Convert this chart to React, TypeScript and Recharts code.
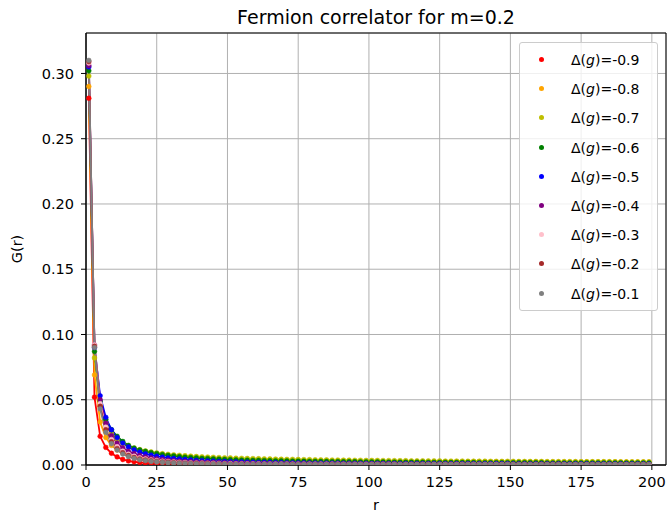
import { CartesianGrid, ComposedChart, Legend, Line, ReferenceArea, XAxis, YAxis } from "recharts";

// distance r (odd sites only)
const rs = [
  1, 3, 5, 7, 9, 11, 13, 15, 17, 19,
  21, 23, 25, 27, 29, 31, 33, 35, 37, 39,
  41, 43, 45, 47, 49, 51, 53, 55, 57, 59,
  61, 63, 65, 67, 69, 71, 73, 75, 77, 79,
  81, 83, 85, 87, 89, 91, 93, 95, 97, 99,
  101, 103, 105, 107, 109, 111, 113, 115, 117, 119,
  121, 123, 125, 127, 129, 131, 133, 135, 137, 139,
  141, 143, 145, 147, 149, 151, 153, 155, 157, 159,
  161, 163, 165, 167, 169, 171, 173, 175, 177, 179,
  181, 183, 185, 187, 189, 191, 193, 195, 197, 199,
];

const g09 = [
  0.281, 0.052, 0.022, 0.0135, 0.009, 0.0062, 0.0042, 0.0031, 0.0024, 0.0019,
  0.0016, 0.0014, 0.0012, 0.0011, 0.001, 0.0009, 0.0009, 0.0008, 0.0008, 0.0007,
  0.0007, 0.0007, 0.0006, 0.0006, 0.0006, 0.0006, 0.0006, 0.0005, 0.0005, 0.0005,
  0.0005, 0.0005, 0.0005, 0.0005, 0.0005, 0.0004, 0.0004, 0.0004, 0.0004, 0.0004,
  0.0004, 0.0004, 0.0004, 0.0004, 0.0004, 0.0004, 0.0004, 0.0004, 0.0004, 0.0004,
  0.0004, 0.0004, 0.0004, 0.0004, 0.0004, 0.0004, 0.0004, 0.0004, 0.0004, 0.0004,
  0.0004, 0.0004, 0.0004, 0.0004, 0.0004, 0.0003, 0.0003, 0.0003, 0.0003, 0.0003,
  0.0003, 0.0003, 0.0003, 0.0003, 0.0003, 0.0003, 0.0003, 0.0003, 0.0003, 0.0003,
  0.0003, 0.0003, 0.0003, 0.0003, 0.0003, 0.0003, 0.0003, 0.0003, 0.0003, 0.0003,
  0.0003, 0.0003, 0.0003, 0.0003, 0.0003, 0.0003, 0.0003, 0.0003, 0.0003, 0.0003,
];

const g08 = [
  0.29, 0.069, 0.033, 0.021, 0.015, 0.0115, 0.0093, 0.0078, 0.0067, 0.0059,
  0.0053, 0.0048, 0.0044, 0.0041, 0.0038, 0.0036, 0.0034, 0.0033, 0.0032, 0.0031,
  0.0031, 0.003, 0.003, 0.0029, 0.0029, 0.0029, 0.0028, 0.0028, 0.0028, 0.0028,
  0.0028, 0.0027, 0.0027, 0.0027, 0.0027, 0.0027, 0.0027, 0.0027, 0.0027, 0.0027,
  0.0027, 0.0027, 0.0027, 0.0027, 0.0027, 0.0026, 0.0026, 0.0026, 0.0026, 0.0026,
  0.0026, 0.0026, 0.0026, 0.0026, 0.0026, 0.0026, 0.0026, 0.0026, 0.0026, 0.0026,
  0.0025, 0.0025, 0.0025, 0.0025, 0.0025, 0.0025, 0.0025, 0.0025, 0.0025, 0.0025,
  0.0025, 0.0025, 0.0025, 0.0025, 0.0025, 0.0024, 0.0024, 0.0024, 0.0024, 0.0024,
  0.0024, 0.0024, 0.0024, 0.0024, 0.0024, 0.0024, 0.0024, 0.0024, 0.0024, 0.0024,
  0.0024, 0.0024, 0.0024, 0.0024, 0.0024, 0.0023, 0.0023, 0.0023, 0.0023, 0.0023,
];

const g07 = [
  0.298, 0.082, 0.046, 0.032, 0.024, 0.0195, 0.0165, 0.0145, 0.013, 0.0118,
  0.0108, 0.01, 0.0093, 0.0087, 0.0082, 0.0078, 0.0074, 0.0071, 0.0068, 0.0065,
  0.0063, 0.0061, 0.0059, 0.0057, 0.0055, 0.0054, 0.0052, 0.0051, 0.005, 0.0049,
  0.0048, 0.0047, 0.0046, 0.0045, 0.0044, 0.0043, 0.0043, 0.0042, 0.0041, 0.0041,
  0.004, 0.0039, 0.0039, 0.0038, 0.0038, 0.0037, 0.0037, 0.0036, 0.0036, 0.0035,
  0.0035, 0.0035, 0.0034, 0.0034, 0.0033, 0.0033, 0.0033, 0.0032, 0.0032, 0.0032,
  0.0031, 0.0031, 0.0031, 0.003, 0.003, 0.003, 0.003, 0.0029, 0.0029, 0.0029,
  0.0029, 0.0028, 0.0028, 0.0028, 0.0028, 0.0028, 0.0027, 0.0027, 0.0027, 0.0027,
  0.0027, 0.0026, 0.0026, 0.0026, 0.0026, 0.0026, 0.0026, 0.0025, 0.0025, 0.0025,
  0.0025, 0.0025, 0.0025, 0.0025, 0.0024, 0.0024, 0.0024, 0.0024, 0.0024, 0.0024,
];

const g06 = [
  0.302, 0.087, 0.049, 0.035, 0.027, 0.022, 0.018, 0.015, 0.013, 0.0115,
  0.0104, 0.0095, 0.0087, 0.008, 0.0074, 0.0069, 0.0064, 0.006, 0.0057, 0.0054,
  0.0051, 0.0049, 0.0047, 0.0045, 0.0043, 0.0041, 0.004, 0.0038, 0.0037, 0.0036,
  0.0035, 0.0034, 0.0033, 0.0032, 0.0032, 0.0031, 0.003, 0.003, 0.0029, 0.0028,
  0.0028, 0.0027, 0.0027, 0.0026, 0.0026, 0.0025, 0.0025, 0.0025, 0.0024, 0.0024,
  0.0023, 0.0023, 0.0023, 0.0022, 0.0022, 0.0022, 0.0021, 0.0021, 0.0021, 0.0021,
  0.002, 0.002, 0.002, 0.002, 0.0019, 0.0019, 0.0019, 0.0019, 0.0019, 0.0018,
  0.0018, 0.0018, 0.0018, 0.0018, 0.0018, 0.0018, 0.0018, 0.0018, 0.0018, 0.0018,
  0.0018, 0.0017, 0.0017, 0.0017, 0.0017, 0.0017, 0.0017, 0.0017, 0.0017, 0.0017,
  0.0017, 0.0017, 0.0017, 0.0017, 0.0017, 0.0016, 0.0016, 0.0016, 0.0016, 0.0016,
];

const g05 = [
  0.305, 0.09, 0.053, 0.0365, 0.027, 0.021, 0.0168, 0.0138, 0.0116, 0.0099,
  0.0086, 0.0076, 0.0068, 0.0061, 0.0055, 0.005, 0.0046, 0.0042, 0.0039, 0.0036,
  0.0034, 0.0032, 0.003, 0.0028, 0.0027, 0.0025, 0.0024, 0.0023, 0.0022, 0.0021,
  0.002, 0.002, 0.0019, 0.0018, 0.0018, 0.0017, 0.0017, 0.0016, 0.0016, 0.0015,
  0.0015, 0.0015, 0.0014, 0.0014, 0.0014, 0.0013, 0.0013, 0.0013, 0.0013, 0.0012,
  0.0012, 0.0012, 0.0012, 0.0012, 0.0012, 0.0011, 0.0011, 0.0011, 0.0011, 0.0011,
  0.0011, 0.0011, 0.0011, 0.001, 0.001, 0.001, 0.001, 0.001, 0.001, 0.001,
  0.001, 0.001, 0.001, 0.001, 0.001, 0.0009, 0.0009, 0.0009, 0.0009, 0.0009,
  0.0009, 0.0009, 0.0009, 0.0009, 0.0009, 0.0009, 0.0009, 0.0009, 0.0009, 0.0009,
  0.0009, 0.0009, 0.0009, 0.0008, 0.0008, 0.0008, 0.0008, 0.0008, 0.0008, 0.0008,
];

const g04 = [
  0.306, 0.092, 0.05, 0.032, 0.0225, 0.0168, 0.0131, 0.0105, 0.0087, 0.0073,
  0.0062, 0.0054, 0.0047, 0.0042, 0.0037, 0.0033, 0.003, 0.0027, 0.0025, 0.0023,
  0.0021, 0.002, 0.0019, 0.0018, 0.0017, 0.0016, 0.0015, 0.0014, 0.0014, 0.0013,
  0.0013, 0.0012, 0.0012, 0.0011, 0.0011, 0.0011, 0.001, 0.001, 0.001, 0.001,
  0.0009, 0.0009, 0.0009, 0.0009, 0.0009, 0.0009, 0.0009, 0.0009, 0.0009, 0.0009,
  0.0008, 0.0008, 0.0008, 0.0008, 0.0008, 0.0007, 0.0007, 0.0007, 0.0007, 0.0007,
  0.0007, 0.0007, 0.0007, 0.0007, 0.0007, 0.0007, 0.0007, 0.0007, 0.0007, 0.0007,
  0.0006, 0.0006, 0.0006, 0.0006, 0.0006, 0.0006, 0.0006, 0.0006, 0.0006, 0.0006,
  0.0006, 0.0006, 0.0006, 0.0006, 0.0006, 0.0005, 0.0005, 0.0005, 0.0005, 0.0005,
  0.0005, 0.0005, 0.0005, 0.0005, 0.0005, 0.0005, 0.0005, 0.0005, 0.0005, 0.0005,
];

const g03 = [
  0.308, 0.092, 0.047, 0.029, 0.0195, 0.014, 0.0106, 0.0083, 0.0067, 0.0055,
  0.0046, 0.0039, 0.0034, 0.0029, 0.0026, 0.0023, 0.002, 0.0018, 0.0016, 0.0015,
  0.0014, 0.0013, 0.0012, 0.0011, 0.001, 0.001, 0.0009, 0.0009, 0.0008, 0.0008,
  0.0008, 0.0007, 0.0007, 0.0007, 0.0007, 0.0007, 0.0006, 0.0006, 0.0006, 0.0006,
  0.0006, 0.0006, 0.0006, 0.0006, 0.0006, 0.0005, 0.0005, 0.0005, 0.0005, 0.0005,
  0.0005, 0.0005, 0.0005, 0.0005, 0.0005, 0.0004, 0.0004, 0.0004, 0.0004, 0.0004,
  0.0004, 0.0004, 0.0004, 0.0004, 0.0004, 0.0004, 0.0004, 0.0004, 0.0004, 0.0004,
  0.0004, 0.0004, 0.0004, 0.0004, 0.0004, 0.0003, 0.0003, 0.0003, 0.0003, 0.0003,
  0.0003, 0.0003, 0.0003, 0.0003, 0.0003, 0.0003, 0.0003, 0.0003, 0.0003, 0.0003,
  0.0003, 0.0003, 0.0003, 0.0003, 0.0003, 0.0003, 0.0003, 0.0003, 0.0003, 0.0003,
];

const g02 = [
  0.309, 0.091, 0.045, 0.027, 0.0178, 0.0126, 0.0094, 0.0073, 0.0058, 0.0047,
  0.0039, 0.0033, 0.0028, 0.0024, 0.0021, 0.0018, 0.0016, 0.0014, 0.0013, 0.0012,
  0.0011, 0.001, 0.0009, 0.0009, 0.0008, 0.0007, 0.0007, 0.0007, 0.0006, 0.0006,
  0.0006, 0.0005, 0.0005, 0.0005, 0.0005, 0.0005, 0.0004, 0.0004, 0.0004, 0.0004,
  0.0004, 0.0004, 0.0004, 0.0004, 0.0004, 0.0003, 0.0003, 0.0003, 0.0003, 0.0003,
  0.0003, 0.0003, 0.0003, 0.0003, 0.0003, 0.0003, 0.0003, 0.0003, 0.0003, 0.0003,
  0.0003, 0.0003, 0.0003, 0.0003, 0.0003, 0.0002, 0.0002, 0.0002, 0.0002, 0.0002,
  0.0002, 0.0002, 0.0002, 0.0002, 0.0002, 0.0002, 0.0002, 0.0002, 0.0002, 0.0002,
  0.0002, 0.0002, 0.0002, 0.0002, 0.0002, 0.0002, 0.0002, 0.0002, 0.0002, 0.0002,
  0.0002, 0.0002, 0.0002, 0.0002, 0.0002, 0.0002, 0.0002, 0.0002, 0.0002, 0.0002,
];

const g01 = [
  0.31, 0.09, 0.043, 0.025, 0.0163, 0.0114, 0.0084, 0.0064, 0.005, 0.004,
  0.0033, 0.0027, 0.0023, 0.0019, 0.0017, 0.0014, 0.0012, 0.0011, 0.001, 0.0009,
  0.0008, 0.0007, 0.0007, 0.0006, 0.0006, 0.0005, 0.0005, 0.0005, 0.0004, 0.0004,
  0.0004, 0.0004, 0.0004, 0.0004, 0.0004, 0.0003, 0.0003, 0.0003, 0.0003, 0.0003,
  0.0003, 0.0003, 0.0003, 0.0003, 0.0003, 0.0003, 0.0003, 0.0003, 0.0003, 0.0003,
  0.0002, 0.0002, 0.0002, 0.0002, 0.0002, 0.0002, 0.0002, 0.0002, 0.0002, 0.0002,
  0.0002, 0.0002, 0.0002, 0.0002, 0.0002, 0.0002, 0.0002, 0.0002, 0.0002, 0.0002,
  0.0002, 0.0002, 0.0002, 0.0002, 0.0002, 0.0002, 0.0002, 0.0002, 0.0002, 0.0002,
  0.0002, 0.0002, 0.0002, 0.0002, 0.0002, 0.0002, 0.0002, 0.0002, 0.0002, 0.0002,
  0.0002, 0.0002, 0.0002, 0.0002, 0.0002, 0.0002, 0.0002, 0.0002, 0.0002, 0.0002,
];

const xTicks = [0, 25, 50, 75, 100, 125, 150, 175, 200];
const yTicks = [0, 0.05, 0.1, 0.15, 0.2, 0.25, 0.3];

const series = [
  { key: "g09", label: "-0.9", color: "#ff0000", values: g09 },
  { key: "g08", label: "-0.8", color: "#ffa500", values: g08 },
  { key: "g07", label: "-0.7", color: "#bfbf00", values: g07 },
  { key: "g06", label: "-0.6", color: "#008000", values: g06 },
  { key: "g05", label: "-0.5", color: "#0000ff", values: g05 },
  { key: "g04", label: "-0.4", color: "#800080", values: g04 },
  { key: "g03", label: "-0.3", color: "#ffc0cb", values: g03 },
  { key: "g02", label: "-0.2", color: "#a52a2a", values: g02 },
  { key: "g01", label: "-0.1", color: "#808080", values: g01 },
];

const rows = rs.map((r, i) => {
  const row: Record<string, number> = { r };
  series.forEach((s) => {
    row[s.key] = s.values[i];
  });
  return row;
});

const FONT = "'DejaVu Sans', sans-serif";
const tickStyle = { fill: "#000", fontSize: 14.5, fontFamily: FONT };
const Y_MAX = 0.331;

function LegendBox() {
  return (
    <div
      style={{
        position: "relative",
        boxSizing: "border-box",
        width: 139,
        height: 269,
        border: "1px solid #cccccc",
        borderRadius: 3,
        background: "rgba(255,255,255,0.8)",
        fontFamily: FONT,
        fontSize: 14,
        color: "#000",
      }}
    >
      {series.map((s, i) => (
        <div
          key={s.key}
          style={{ position: "absolute", left: 0, top: 7 + i * 29.2, height: 20, width: "100%" }}
        >
          <span
            style={{
              position: "absolute",
              left: 19,
              top: 7,
              width: 5,
              height: 5,
              borderRadius: "50%",
              background: s.color,
            }}
          />
          <span style={{ position: "absolute", left: 51, top: 0, lineHeight: "20px", whiteSpace: "nowrap" }}>
            Δ(<i>g</i>)={s.label}
          </span>
        </div>
      ))}
    </div>
  );
}

export default function App() {
  return (
    <div style={{ position: "absolute", left: 0, top: 0, width: 668, height: 519, background: "#fff" }}>
      <div
        style={{
          position: "absolute",
          left: 86,
          width: 580,
          top: 5,
          textAlign: "center",
          fontFamily: FONT,
          fontSize: 19,
          lineHeight: "24px",
          color: "#000",
        }}
      >
        Fermion correlator for m=0.2
      </div>
      <ComposedChart width={668} height={519} data={rows} margin={{ top: 33, right: 2, bottom: 0, left: 0 }}>
        <CartesianGrid stroke="#b0b0b0" strokeWidth={1} />
        <XAxis
          dataKey="r"
          type="number"
          domain={[0, 205]}
          ticks={xTicks}
          allowDataOverflow
          height={54}
          tick={tickStyle}
          tickSize={5}
          tickMargin={7}
          stroke="#000"
          label={{ value: "r", position: "insideBottom", offset: 9, fill: "#000", fontSize: 14.5, fontFamily: FONT }}
        />
        <YAxis
          type="number"
          domain={[0, Y_MAX]}
          ticks={yTicks}
          allowDataOverflow
          width={86}
          tick={tickStyle}
          tickSize={5}
          tickMargin={7}
          stroke="#000"
          tickFormatter={(v: number) => v.toFixed(2)}
          label={{
            value: "G(r)",
            angle: -90,
            position: "insideLeft",
            offset: 17,
            fill: "#000",
            fontSize: 14.5,
            fontFamily: FONT,
            style: { textAnchor: "middle" },
          }}
        />
        <ReferenceArea x1={0} x2={205} y1={0} y2={Y_MAX} fill="none" stroke="#000" strokeWidth={1} ifOverflow="extendDomain" />
        {series.map((s) => (
          <Line
            key={s.key}
            dataKey={s.key}
            type="linear"
            stroke={s.color}
            strokeWidth={1.8}
            dot={{ r: 2.4, fill: s.color, stroke: s.color, strokeWidth: 0.5 }}
            activeDot={false}
            isAnimationActive={false}
          />
        ))}
        <Legend
          layout="vertical"
          align="center"
          verticalAlign="middle"
          wrapperStyle={{ left: 519, top: 42, width: 139 }}
          content={() => <LegendBox />}
        />
      </ComposedChart>
    </div>
  );
}
